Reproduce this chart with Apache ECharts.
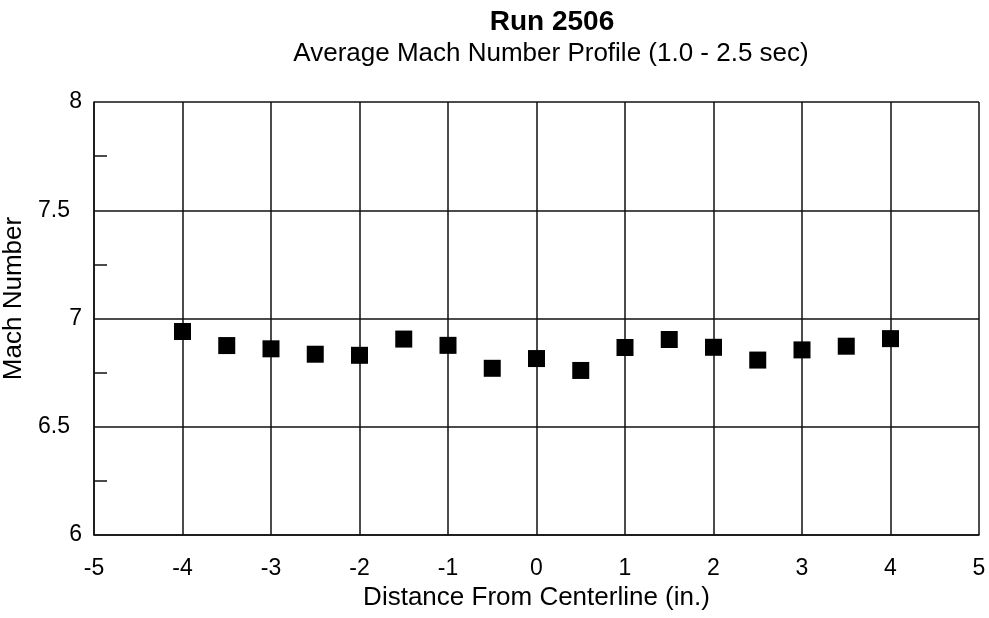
<!DOCTYPE html>
<html>
<head>
<meta charset="utf-8">
<title>Run 2506</title>
<script src="https://cdn.jsdelivr.net/npm/echarts@6/dist/echarts.min.js"></script>
<style>
    html, body { margin: 0; padding: 0; background: #fff; }
    #main { width: 989px; height: 618px; }
</style>
</head>
<body>
<div id="main"></div>
<script>
// distance from centerline (in.)
var positions = [-4, -3.5, -3, -2.5, -2, -1.5, -1, -0.5, 0, 0.5, 1, 1.5, 2, 2.5, 3, 3.5, 4];
// average mach number, 1.0 - 2.5 sec
var machValues = [6.94, 6.875, 6.86, 6.835, 6.83, 6.905, 6.876, 6.77, 6.815, 6.76, 6.866, 6.903, 6.867, 6.808, 6.855, 6.872, 6.907];

var xTicks = [-5, -4, -3, -2, -1, 0, 1, 2, 3, 4, 5];
var yTicks = [6, 6.5, 7, 7.5, 8];

var titleText = 'Run 2506';
var subTitleText = 'Average Mach Number Profile (1.0 - 2.5 sec)';

var points = [];
for (var i = 0; i < positions.length; i++) {
    points.push([positions[i], machValues[i]]);
}

var font = 'Liberation Sans, Arial, Helvetica, sans-serif';
var ink = '#111';

var dom = document.getElementById('main');
var chart = echarts.init(dom, null, {renderer: 'canvas'});
var option;

option = {
    backgroundColor: '#fff',
    animation: false,
    title: [{
        text: titleText,
        left: 547,
        top: 3,
        textAlign: 'center',
        textStyle: {
            fontFamily: font,
            fontSize: 28,
            fontWeight: 'bold',
            color: '#000'
        }
    }, {
        text: subTitleText,
        left: 546,
        top: 36,
        textAlign: 'center',
        textStyle: {
            fontFamily: font,
            fontSize: 26,
            fontWeight: 'normal',
            color: '#000'
        }
    }],
    grid: {
        left: 94,
        right: 10,
        top: 102,
        bottom: 83,
        containLabel: false,
        outerBoundsMode: 'none'
    },
    xAxis: {
        type: 'value',
        min: xTicks[0],
        max: xTicks[xTicks.length - 1],
        interval: 1,
        name: 'Distance From Centerline (in.)',
        nameLocation: 'middle',
        nameGap: 41,
        nameTextStyle: {
            fontFamily: font,
            fontSize: 26,
            color: '#000'
        },
        axisLine: {show: true, onZero: false, lineStyle: {color: ink, width: 1.5}},
        axisTick: {show: false},
        splitLine: {show: true, lineStyle: {color: ink, width: 1.5}},
        axisLabel: {
            margin: 22,
            fontFamily: font,
            fontSize: 23,
            color: '#000'
        }
    },
    yAxis: {
        type: 'value',
        min: yTicks[0],
        max: yTicks[yTicks.length - 1],
        interval: 0.5,
        name: 'Mach Number',
        nameLocation: 'middle',
        nameGap: 63,
        nameTextStyle: {
            fontFamily: font,
            fontSize: 26,
            color: '#000',
            padding: [0, 0, 0, 40]
        },
        axisLine: {show: true, onZero: false, lineStyle: {color: ink, width: 1.5}},
        axisTick: {show: false},
        minorTick: {
            show: true,
            splitNumber: 2,
            length: -13,
            lineStyle: {color: ink, width: 1.5}
        },
        splitLine: {show: true, lineStyle: {color: ink, width: 1.5}},
        axisLabel: {
            margin: 12,
            fontFamily: font,
            fontSize: 23,
            color: '#000',
            formatter: function (value) {
                if (value % 1 !== 0) {
                    return '{d|' + value + '}';
                }
                return '{i|' + value + '}';
            },
            rich: {
                i: {fontFamily: font, fontSize: 23, color: '#000'},
                d: {fontFamily: font, fontSize: 23, color: '#000', padding: [0, 12, 0, 0]}
            }
        }
    },
    series: [{
        type: 'scatter',
        data: points,
        symbol: 'rect',
        symbolSize: 17,
        itemStyle: {color: '#000', opacity: 1}
    }]
};

if (option && typeof option === 'object') {
    chart.setOption(option);
}

window.addEventListener('resize', function () {
    chart.resize();
});
</script>
</body>
</html>
